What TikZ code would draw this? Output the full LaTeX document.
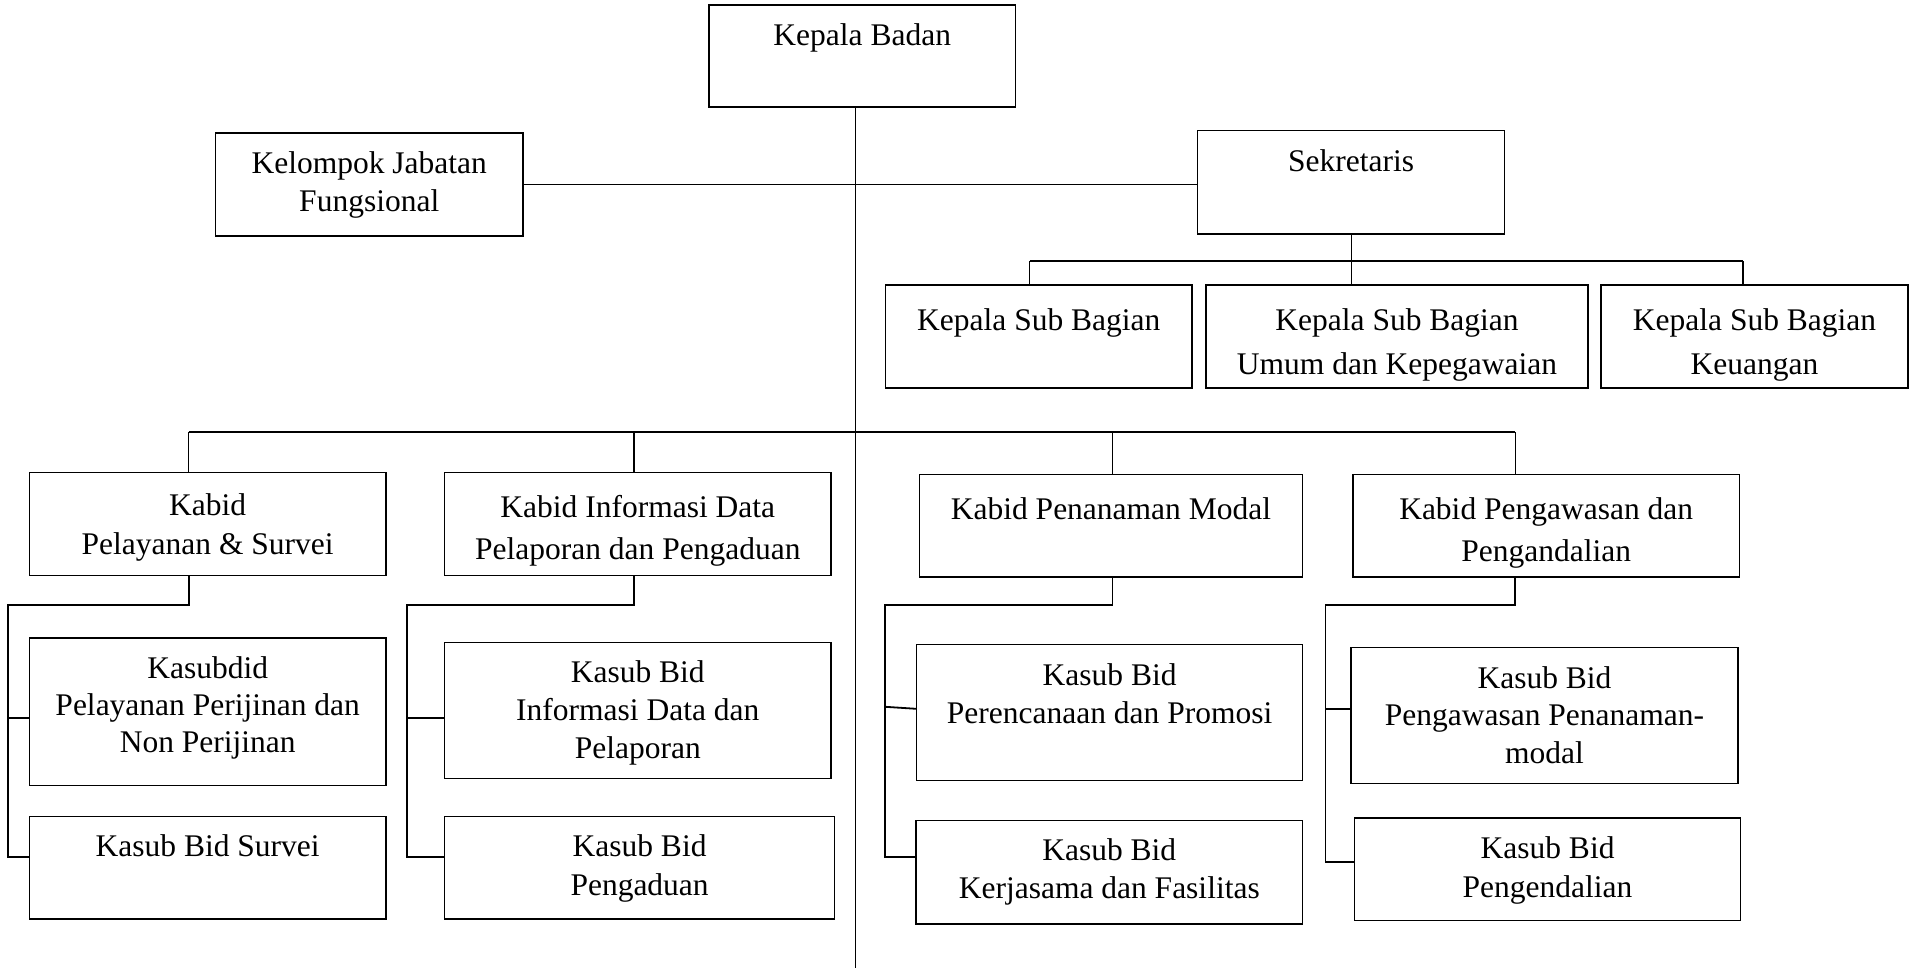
\documentclass[tikz,border=0pt]{standalone}
\usepackage{fontspec}
\setmainfont{Liberation Serif}
\tikzset{
  box/.style={draw, rectangle, line width=1.3pt, inner sep=0pt},
  txt/.style={align=center, inner sep=0pt},
  main/.style={line width=1.8pt},
  thinline/.style={line width=1.2pt},
}
% name, x1, y1, x2, y2, first-line centre y, baselineskip, text
\newcommand\orgbox[8]{%
  \node[box, minimum width={#4-#2}, minimum height={#5-#3}] (#1) at ({(#2+#4)/2},{(#3+#5)/2}) {};
  \node[txt, anchor=north, font=\fontsize{31.5}{#7}\selectfont] (#1-t) at ({(#2+#4)/2},{#6-15.5}) {\strut #8};
}
\begin{document}
\begin{tikzpicture}[x=1pt,y=-1pt]
\useasboundingbox (0,0) rectangle (1910,969);

\orgbox{kb}{709}{5}{1015.5}{107}{35}{36.5}{Kepala Badan}
\orgbox{kjf}{215.5}{133}{523}{236}{163}{37.5}{Kelompok Jabatan\\Fungsional}
\orgbox{sek}{1197.4}{130.7}{1504.8}{234}{161}{36.5}{Sekretaris}
\orgbox{ksb1}{885.5}{285}{1192}{388}{315}{44}{Kepala Sub Bagian}
\orgbox{ksb2}{1206}{285}{1588}{388}{315}{44}{Kepala Sub Bagian\\Umum dan Kepegawaian}
\orgbox{ksb3}{1601}{285}{1908}{388}{315}{44}{Kepala Sub Bagian\\Keuangan}

\orgbox{kab1}{29.4}{472.7}{386}{575.7}{503.5}{39}{Kabid\\Pelayanan \& Survei}
\orgbox{kab2}{444.6}{472.7}{831}{575.7}{503.5}{42}{Kabid Informasi Data\\Pelaporan dan Pengaduan}
\orgbox{kab3}{919.4}{474.4}{1302.5}{577.1}{505.3}{42}{Kabid Penanaman Modal}
\orgbox{kab4}{1353}{474.4}{1739.4}{577.1}{505.3}{42}{Kabid Pengawasan dan\\Pengandalian}

\orgbox{s11}{29.4}{638.1}{386}{785.7}{668.3}{36.8}{Kasubdid\\Pelayanan Perijinan dan\\Non Perijinan}
\orgbox{s12}{29.4}{816.2}{386}{918.9}{845.3}{38}{Kasub Bid Survei}
\orgbox{s21}{444.6}{642.7}{831}{778.7}{671.8}{37.6}{Kasub Bid\\Informasi Data dan\\Pelaporan}
\orgbox{s22}{444.6}{816.2}{834.6}{918.9}{845.3}{38.5}{Kasub Bid\\Pengaduan}
\orgbox{s31}{916.8}{644.4}{1302.5}{780.4}{674.2}{37.9}{Kasub Bid\\Perencanaan dan Promosi}
\orgbox{s32}{916}{820.7}{1302.5}{924}{849.8}{37.5}{Kasub Bid\\Kerjasama dan Fasilitas}
\orgbox{s41}{1351}{647.6}{1738}{783.2}{677}{37.7}{Kasub Bid\\Pengawasan Penanaman-\\modal}
\orgbox{s42}{1354.4}{817.9}{1740.7}{920.6}{847}{38.6}{Kasub Bid\\Pengendalian}

% main trunk
\coordinate (mainend) at (855.5,968);
\draw[main] (kb.south -| mainend) -- (mainend);
\draw[main] (kjf.east) -- (kjf.east -| sek.west);

% secretariat
\coordinate (sbus) at (0,260.7);
\draw[thinline] (sek.south) -- (sek.south |- ksb2.north);
\draw[main] ([xshift=-9pt]ksb1.north |- sbus) -- ([xshift=-11.5pt]ksb3.north |- sbus);
\draw[thinline] ([xshift=-9pt]ksb1.north) -- ([xshift=-9pt]ksb1.north |- sbus);
\draw[thinline] ([xshift=-11.5pt]ksb3.north) -- ([xshift=-11.5pt]ksb3.north |- sbus);

% main bus
\coordinate (bus) at (0,432);
\draw[main] ([xshift=-19.1pt]kab1.north |- bus) -- ([xshift=-30.9pt]kab4.north |- bus);
\draw[thinline] ([xshift=-19.1pt]kab1.north) -- ([xshift=-19.1pt]kab1.north |- bus);
\draw[thinline] ([xshift=-3.8pt]kab2.north) -- ([xshift=-3.8pt]kab2.north |- bus);
\draw[thinline] ([xshift=1.6pt]kab3.north) -- ([xshift=1.6pt]kab3.north |- bus);
\draw[thinline] ([xshift=-30.9pt]kab4.north) -- ([xshift=-30.9pt]kab4.north |- bus);

% subtree 1
\coordinate (t1) at (8,605.2);
\coordinate (t1a) at (8,717.7);
\coordinate (t1b) at (8,856.8);
\draw[main] ([xshift=-19.1pt]kab1.south) |- (t1) -- (t1b) -- (t1b -| s12.west);
\draw[main] (t1a) -- (t1a -| s11.west);

% subtree 2
\coordinate (t2) at (407.2,605.2);
\coordinate (t2a) at (407.2,717.7);
\coordinate (t2b) at (407.2,856.8);
\draw[main] ([xshift=-3.8pt]kab2.south) |- (t2) -- (t2b) -- (t2b -| s22.west);
\draw[main] (t2a) -- (t2a -| s21.west);

% subtree 3
\coordinate (t3) at (885.3,605.2);
\coordinate (t3a) at (885.3,706.8);
\coordinate (t3b) at (885.3,856.8);
\draw[main] ([xshift=1.6pt]kab3.south) |- (t3) -- (t3b) -- (t3b -| s32.west);
\draw[main] (t3a) -- ([yshift=-2pt]t3a -| s31.west);

% subtree 4
\coordinate (t4) at (1325.5,605.2);
\coordinate (t4a) at (1325.5,708.6);
\coordinate (t4b) at (1325.5,861.7);
\draw[main] ([xshift=-30.9pt]kab4.south) |- (t4) -- (t4b) -- (t4b -| s42.west);
\draw[main] (t4a) -- (t4a -| s41.west);
\end{tikzpicture}
\end{document}
